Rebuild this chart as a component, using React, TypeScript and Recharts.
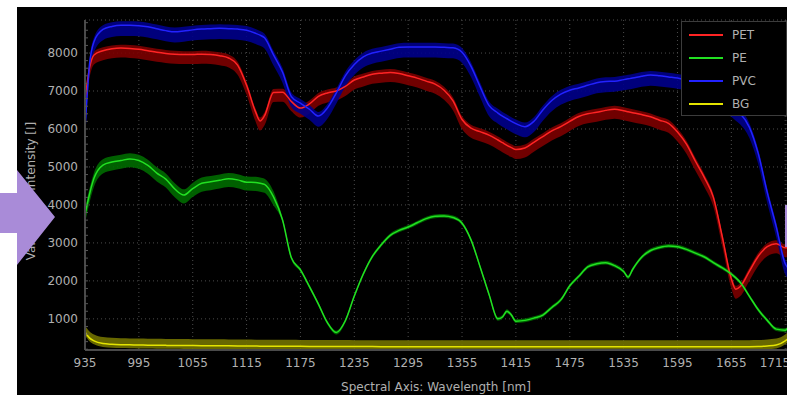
import React from 'react';
import { ComposedChart, Line, Area, XAxis, YAxis, CartesianGrid } from 'recharts';

const wavelengths = [
  935, 940, 945, 955, 965, 975, 985, 995, 1005, 1015, 1025, 1035, 1045, 1055, 1065, 1075, 1085, 1095, 1105, 1115,
  1125, 1130, 1135, 1145, 1155, 1165, 1175, 1185, 1195, 1205, 1215, 1225, 1235, 1245, 1255, 1265, 1275, 1285, 1295,
  1305, 1315, 1325, 1335, 1345, 1355, 1365, 1375, 1385, 1395, 1400, 1405, 1410, 1415, 1425, 1435, 1445, 1455, 1465,
  1475, 1485, 1495, 1505, 1515, 1525, 1535, 1540, 1545, 1555, 1565, 1575, 1585, 1595, 1605, 1615, 1625, 1635, 1645,
  1655, 1660, 1665, 1675, 1685, 1695, 1705, 1715, 1720,
];

const pet = [
  6760, 7600, 7950, 8060, 8110, 8130, 8120, 8100, 8060, 8020, 7990, 7970, 7960, 7960, 7970, 7960, 7930, 7870, 7680, 7150,
  6450, 6210, 6350, 6960, 6970, 6720, 6550, 6660, 6860, 6950, 7000, 7120, 7290, 7370, 7440, 7470, 7490, 7460, 7400,
  7340, 7260, 7180, 7020, 6740, 6250, 6020, 5930, 5840, 5710, 5640, 5570, 5510, 5460, 5500, 5650, 5800, 5950, 6060,
  6200, 6330, 6400, 6440, 6490, 6520, 6480, 6455, 6430, 6380, 6320, 6230, 6150, 5920, 5600, 5150, 4720, 4200, 3150,
  2050, 1780, 1850, 2250, 2650, 2900, 2980, 2870, 2870,
];

const pe = [
  3740, 4280, 4700, 5050, 5130, 5170, 5210, 5170, 5040, 4840, 4680, 4420, 4260, 4430, 4570, 4610, 4650, 4690, 4660, 4600,
  4590, 4570, 4540, 4210, 3610, 2600, 2290, 1850, 1390, 900, 640, 950, 1600, 2180, 2640, 2950, 3200, 3330, 3420,
  3530, 3640, 3700, 3710, 3670, 3520, 3080, 2380, 1650, 1000, 1050, 1200, 1100, 940, 960, 1020, 1100, 1300, 1500,
  1870, 2120, 2370, 2450, 2480, 2400, 2250, 2100, 2300, 2620, 2800, 2880, 2920, 2900, 2830, 2730, 2630, 2480, 2340,
  2180, 2080, 1960, 1600, 1240, 960, 730, 700, 840,
];

const pvc = [
  6000, 7700, 8300, 8620, 8700, 8730, 8730, 8720, 8690, 8640, 8590, 8560, 8580, 8610, 8630, 8640, 8650, 8640, 8630, 8600,
  8520, 8470, 8400, 7950, 7500, 6850, 6680, 6520, 6340, 6550, 6950, 7400, 7700, 7900, 8000, 8050, 8100, 8150, 8160,
  8160, 8160, 8160, 8150, 8140, 8020, 7650, 7120, 6620, 6420, 6340, 6270, 6200, 6140, 6060, 6200, 6500, 6750, 6920,
  7020, 7080, 7150, 7220, 7250, 7260, 7300, 7320, 7340, 7390, 7420, 7400, 7370, 7340, 7300, 7220, 7100, 6950, 6780,
  6600, 6500, 6400, 6050, 5350, 4330, 3430, 2450, 2300,
];

const bgSeries = [
  650, 500, 420, 350, 330, 320, 315, 310, 308, 305, 302, 300, 298, 296, 295, 292, 290, 289, 287, 285,
  283, 282, 281, 280, 278, 277, 276, 275, 274, 273, 272, 271, 270, 270, 269, 268, 268, 267, 267,
  266, 266, 266, 265, 265, 265, 265, 265, 265, 265, 265, 265, 265, 265, 265, 265, 265, 265, 265,
  265, 265, 265, 265, 265, 265, 265, 265, 265, 265, 265, 265, 265, 265, 265, 265, 265, 265, 266,
  266, 266, 267, 268, 272, 285, 310, 420, 520,
];

const xTicks = [935, 995, 1055, 1115, 1175, 1235, 1295, 1355, 1415, 1475, 1535, 1595, 1655, 1715];
const yTicks = [1000, 2000, 3000, 4000, 5000, 6000, 7000, 8000];
const xMinor = Array.from({ length: 53 }, (_, i) => 935 + i * 15);
const yMinor = Array.from({ length: 44 }, (_, i) => 200 + i * 200);

// shaded spread around each mean: [below, above]
const series = [
  { key: 'PET', values: pet, color: '#ff2424', band: '#7c0000', spread: [250, 90] },
  { key: 'PE', values: pe, color: '#22e022', band: '#006a00', spread: [220, 150] },
  { key: 'PVC', values: pvc, color: '#2222ff', band: '#00008a', spread: [280, 110] },
  { key: 'BG', values: bgSeries, color: '#e4e400', band: '#727200', spread: [90, 170] },
];

const data = wavelengths.map((wl, i) => {
  const row: any = { wl };
  series.forEach((s) => {
    const v = s.values[i];
    let [lo, hi] = s.spread;
    if (s.key === 'PE' && wl > 1150) {
      lo = 50;
      hi = 50;
    }
    row[s.key] = v;
    row[s.key + 'Band'] = [v - lo, v + hi];
  });
  return row;
});

const FONT = '"DejaVu Sans", sans-serif';
const TEXT = '#b0b0b0';

const YLabel = () => (
  <text
    x={14}
    y={184}
    transform="rotate(-90, 14, 184)"
    textAnchor="middle"
    dominantBaseline="central"
    fill={TEXT}
    fontSize={12}
    fontFamily={FONT}
  >
    Value Axis: Intensity [I]
  </text>
);

export default function App() {
  return (
    <div style={{ position: 'absolute', left: 0, top: 0, width: 787, height: 395, background: '#fff', overflow: 'hidden' }}>
      <div style={{ position: 'absolute', left: 17, top: 7, width: 770, height: 388, background: '#000' }}>
        <ComposedChart width={770} height={388} data={data} margin={{ top: 13, right: 0, bottom: 0, left: 0 }}>
          <CartesianGrid stroke="#4c4c4c" strokeDasharray="1 3" />
          <XAxis
            dataKey="wl"
            type="number"
            domain={[935, 1717]}
            ticks={xTicks}
            allowDataOverflow
            height={45}
            tickLine={false}
            tickSize={0}
            tickMargin={8}
            axisLine={{ stroke: '#4a4a4a', strokeWidth: 2 }}
            tick={{ fill: TEXT, fontSize: 12, fontFamily: FONT }}
            label={{ value: 'Spectral Axis: Wavelength [nm]', position: 'insideBottom', offset: 4, fill: TEXT, fontSize: 12, fontFamily: FONT }}
          />
          <XAxis
            xAxisId="minor"
            type="number"
            domain={[935, 1717]}
            ticks={xMinor}
            allowDataOverflow
            mirror
            axisLine={false}
            tickSize={3}
            tickFormatter={() => ''}
            tickLine={{ stroke: '#555' }}
          />
          <YAxis
            type="number"
            domain={[180, 8870]}
            ticks={yTicks}
            allowDataOverflow
            width={68}
            tickLine={false}
            tickSize={0}
            tickMargin={7}
            axisLine={{ stroke: '#4a4a4a', strokeWidth: 2 }}
            tick={{ fill: TEXT, fontSize: 12, fontFamily: FONT }}
            label={<YLabel />}
          />
          <YAxis
            yAxisId="minor"
            type="number"
            domain={[180, 8870]}
            ticks={yMinor}
            allowDataOverflow
            mirror
            axisLine={false}
            tickSize={3}
            tickFormatter={() => ''}
            tickLine={{ stroke: '#555' }}
          />
          {series.map((s) => (
            <Area
              key={s.key + 'band'}
              type="monotone"
              dataKey={s.key + 'Band'}
              stroke="none"
              fill={s.band}
              fillOpacity={0.9}
              isAnimationActive={false}
            />
          ))}
          {series.map((s) => (
            <Line
              key={s.key}
              type="monotone"
              dataKey={s.key}
              stroke={s.color}
              strokeWidth={1.5}
              dot={false}
              isAnimationActive={false}
            />
          ))}
        </ComposedChart>
        <div
          style={{
            position: 'absolute', left: 664, top: 14, width: 104, height: 93, background: '#000',
            border: '1px solid #3c3c3c', fontFamily: FONT, fontSize: 12, color: TEXT,
          }}
        >
          {series.map((s, i) => (
            <div key={s.key} style={{ position: 'absolute', left: 7, top: 4 + i * 23, height: 18, display: 'flex', alignItems: 'center' }}>
              <div style={{ width: 34, height: 2, background: s.color, marginRight: 9 }} />
              <span>{s.key}</span>
            </div>
          ))}
        </div>
      </div>
      <svg width={787} height={395} style={{ position: 'absolute', left: 0, top: 0, pointerEvents: 'none' }}>
        <polygon points="0,193 17,193 17,170 55,217 17,265 17,233 0,233" fill="#a98bd8" />
        <rect x={785} y={205} width={2} height={42} fill="#a98bd8" />
      </svg>
    </div>
  );
}
